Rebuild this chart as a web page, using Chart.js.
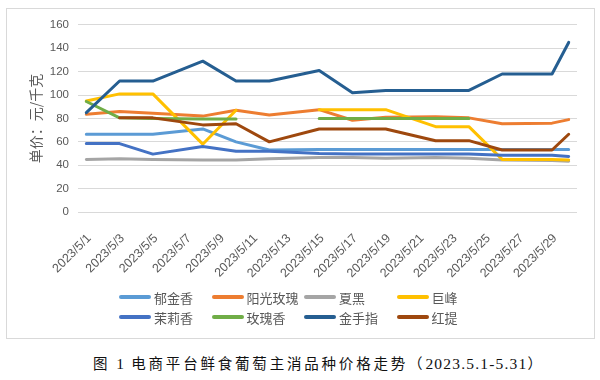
<!DOCTYPE html>
<html>
<head>
<meta charset="utf-8">
<script src="https://cdn.jsdelivr.net/npm/chart.js@4/dist/chart.umd.min.js"></script>
<style>
  body { margin: 0; background: #fff; }
  #wrap { position: relative; width: 600px; height: 380px; background: #fff; overflow: hidden; }
  #box { position: absolute; left: 6px; top: 8px; width: 587px; height: 329px; border: 1px solid #D9D9D9; }
  #chart { position: absolute; left: 7px; top: 9px; }
  #legend { position: absolute; left: 119px; top: 287px; display: grid; grid-template-columns: repeat(4, 92.5px); grid-auto-rows: 20px; }
  .item { display: flex; align-items: center; font: 13px "Noto Sans CJK SC", sans-serif; color: #595959; white-space: nowrap; }
  .swatch { width: 32px; height: 4px; border-radius: 2px; margin-right: 3px; }
  #caption { position: absolute; left: 93px; top: 352px; font: 14.5px "Noto Sans CJK SC", sans-serif; color: #111; letter-spacing: 2.8px; white-space: nowrap; }
  #caption .lat { font-family: "Liberation Serif", "Times New Roman", serif; font-size: 15.5px; letter-spacing: 1.2px; }
</style>
</head>
<body>
<div id="wrap">
  <div id="box"></div>
  <canvas id="chart" width="586" height="328"></canvas>
  <div id="legend"></div>
  <div id="caption">图<span class="lat" style="margin:0 6px 0 6px">1</span>电商平台鲜食葡萄主消品种价格走势（<span class="lat">2023.5.1-5.31</span>）</div>
</div>
<script>
// days of May that have a price (x positions)
const days = [1, 3, 5, 8, 10, 12, 15, 17, 19, 22, 24, 26, 29, 30];
// every other day gets a tick label
const tickDays = [1, 3, 5, 7, 9, 11, 13, 15, 17, 19, 21, 23, 25, 27, 29];

const names = ['郁金香', '阳光玫瑰', '夏黑', '巨峰', '茉莉香', '玫瑰香', '金手指', '红提'];
const colors = ['#5B9BD5', '#ED7D31', '#A5A5A5', '#FFC000', '#4472C4', '#70AD47', '#255E91', '#9E480E'];

// prices, yuan per kg (null = no data, line breaks)
const yujinxiang = [66.5, 66.5, 66.5, 71, 60, 53, 53.5, 53.5, 53.5, 53.5, 53.5, 53.5, 53.5, 53.5];
const yangguang = [83.5, 86, 84.5, 82, 87, 83, 87.5, 78.5, 81, 81.5, 80.5, 75.5, 76, 79];
const xiahei = [45, 45.5, 45, 44.5, 44.5, 45.5, 46.5, 46.5, 46, 46.5, 46, 44.5, 44, 43.5];
const jufeng = [95, 101, 101, 58, 87, null, 87.5, 87.5, 87.5, 73, 73, 45, 45, 44.5];
const molixiang = [58.5, 58.5, 49.5, 56, 52, 52, 50, 49.5, 49.5, 49.5, 49.5, 48.5, 48.5, 47.5];
const meiguixiang = [94.5, 80.5, 80, 79.5, 79.5, null, 80, 80, 80, 80, 80, null, null, null];
const jinshouzhi = [85, 112, 112, 129, 112, 112, 121, 102, 104, 104, 104, 118, 118, 145];
const hongti = [null, 80.5, 80.5, 74.5, 75.5, 60, 71, 71, 71, 61, 61, 53, 53, 66.5];

const series = [yujinxiang, yangguang, xiahei, jufeng, molixiang, meiguixiang, jinshouzhi, hongti];

const datasets = series.map((values, i) => ({
  label: names[i],
  data: days.map((d, j) => ({ x: d, y: values[j] })),
  borderColor: colors[i],
  backgroundColor: colors[i],
  borderWidth: 3,
  pointRadius: 0,
  tension: 0,
  fill: false,
  spanGaps: false,
  borderCapStyle: 'round',
  borderJoinStyle: 'round',
  order: series.length - i // later series on top, like excel
}));

const grey = '#595959';
const tickFont = { family: '"Liberation Sans", Arial, sans-serif', size: 11.5 };

new Chart(document.getElementById('chart').getContext('2d'), {
  type: 'line',
  data: { datasets },
  options: {
    responsive: false,
    animation: false,
    devicePixelRatio: 1,
    layout: { padding: { left: 0, right: 16, top: 15, bottom: 0 } },
    plugins: {
      legend: { display: false },
      tooltip: { enabled: false }
    },
    scales: {
      x: {
        type: 'linear',
        min: 0.5,
        max: 30.5,
        afterBuildTicks: (scale) => {
          scale.ticks = tickDays.map(v => ({ value: v }));
        },
        afterFit: (scale) => { scale.height = 125; },
        grid: { display: false },
        border: { display: false },
        ticks: {
          minRotation: 45,
          maxRotation: 45,
          padding: 11,
          labelOffset: 3,
          color: grey,
          font: { family: tickFont.family, size: 12.5 },
          callback: (v) => '2023/5/' + v
        }
      },
      y: {
        min: 0,
        max: 160,
        afterFit: (scale) => { scale.width = 71; },
        grid: { color: '#D9D9D9', lineWidth: 1, drawTicks: false },
        border: { display: false },
        ticks: { stepSize: 20, padding: 9, color: grey, font: tickFont },
        title: {
          display: true,
          text: '单价：元/千克',
          color: grey,
          font: { family: '"Noto Sans CJK SC", sans-serif', size: 14 },
          padding: { top: 20, bottom: 0 }
        }
      }
    }
  }
});

// legend laid out in 4 fixed columns like the original
const legend = document.getElementById('legend');
names.forEach((name, i) => {
  const item = document.createElement('div');
  item.className = 'item';
  item.innerHTML = '<span class="swatch" style="background:' + colors[i] + '"></span>' + name;
  legend.appendChild(item);
});
</script>
</body>
</html>
